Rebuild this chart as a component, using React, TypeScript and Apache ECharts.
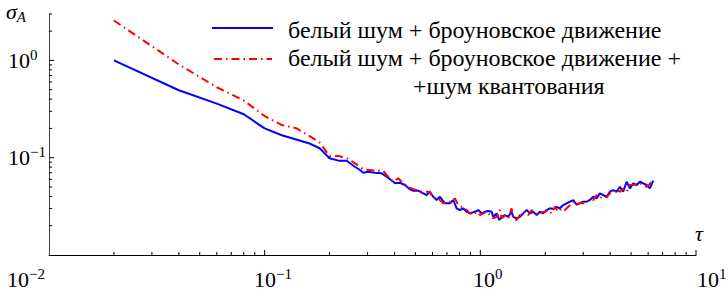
import React, { useEffect, useRef } from "react";
import * as echarts from "echarts";

// ---- data (tau, sigma_A) ----
const blueTau = [0.02, 0.04, 0.06, 0.08, 0.1, 0.12, 0.14, 0.16, 0.18, 0.2, 0.22, 0.24, 0.262, 0.2765, 0.2866, 0.302, 0.3245, 0.3486, 0.3677, 0.3947, 0.4025, 0.4238, 0.447, 0.4717, 0.4889, 0.5155, 0.5436, 0.5636, 0.5838, 0.6047, 0.6271, 0.6498, 0.685, 0.7228, 0.7487, 0.7765, 0.804, 0.8332, 0.8639, 0.895, 0.944, 0.978, 1.014, 1.05, 1.088, 1.128, 1.148, 1.19, 1.223, 1.255, 1.3, 1.347, 1.397, 1.421, 1.473, 1.526, 1.581, 1.64, 1.698, 1.759, 1.824, 1.889, 1.957, 2.03, 2.102, 2.178, 2.258, 2.339, 2.423, 2.513, 2.603, 2.696, 2.796, 2.896, 2.999, 3.111, 3.222, 3.337, 3.461, 3.585, 3.713, 3.851, 3.989, 4.132, 4.284, 4.438, 4.597, 4.768, 4.939, 5.116, 5.304, 5.494, 5.691, 5.902, 6.113, 6.333];
const blueSigma = [1.0, 0.494, 0.36, 0.28, 0.2, 0.17, 0.154, 0.141, 0.125, 0.0986, 0.0933, 0.093, 0.0808, 0.0747, 0.0701, 0.0718, 0.0701, 0.0691, 0.0637, 0.0566, 0.0545, 0.0553, 0.0524, 0.0473, 0.0458, 0.0458, 0.043, 0.0413, 0.0447, 0.0397, 0.0367, 0.0397, 0.034, 0.034, 0.0367, 0.0302, 0.029, 0.0302, 0.0278, 0.0268, 0.0278, 0.029, 0.0268, 0.0278, 0.0283, 0.0278, 0.0247, 0.0268, 0.0229, 0.0247, 0.0257, 0.0247, 0.0278, 0.0247, 0.0238, 0.0247, 0.0268, 0.029, 0.0268, 0.0278, 0.0257, 0.0278, 0.0268, 0.029, 0.0302, 0.0297, 0.0313, 0.0302, 0.0326, 0.034, 0.0353, 0.0367, 0.033, 0.034, 0.0353, 0.0353, 0.0367, 0.0397, 0.0382, 0.043, 0.0413, 0.0397, 0.0447, 0.0465, 0.0447, 0.0503, 0.0447, 0.0566, 0.0484, 0.0545, 0.0524, 0.0566, 0.0545, 0.0524, 0.0484, 0.058];

const redTau = [0.02, 0.04, 0.06, 0.08, 0.1, 0.12, 0.14, 0.16, 0.18, 0.2, 0.22, 0.24, 0.2486, 0.262, 0.2866, 0.3077, 0.3306, 0.3547, 0.3677, 0.381, 0.3947, 0.4162, 0.4238, 0.4391, 0.4631, 0.4889, 0.5155, 0.5344, 0.5636, 0.5838, 0.6047, 0.6379, 0.673, 0.7096, 0.7359, 0.7627, 0.7901, 0.819, 0.848, 0.879, 0.927, 0.961, 0.996, 1.031, 1.07, 1.108, 1.148, 1.19, 1.233, 1.255, 1.3, 1.347, 1.397, 1.421, 1.473, 1.526, 1.61, 1.668, 1.729, 1.791, 1.855, 1.924, 1.993, 2.064, 2.141, 2.218, 2.297, 2.382, 2.467, 2.556, 2.696, 2.796, 2.896, 2.999, 3.111, 3.222, 3.337, 3.461, 3.585, 3.713, 3.851, 3.989, 4.132, 4.284, 4.438, 4.597, 4.768, 4.939, 5.116, 5.304, 5.494, 5.691, 5.902, 6.113, 6.29];
const redSigma = [2.57, 0.91, 0.53, 0.387, 0.268, 0.217, 0.201, 0.169, 0.143, 0.104, 0.104, 0.099, 0.0947, 0.0876, 0.076, 0.0747, 0.0735, 0.0735, 0.0664, 0.0614, 0.0566, 0.0614, 0.059, 0.0545, 0.0503, 0.0473, 0.0465, 0.0447, 0.0447, 0.0447, 0.0382, 0.0382, 0.034, 0.0353, 0.0353, 0.0382, 0.0326, 0.0313, 0.0302, 0.0278, 0.0257, 0.0278, 0.0257, 0.0268, 0.0278, 0.0257, 0.0238, 0.0247, 0.029, 0.0238, 0.0253, 0.0238, 0.0302, 0.0238, 0.0229, 0.0257, 0.0278, 0.0257, 0.029, 0.0268, 0.0257, 0.0275, 0.0278, 0.029, 0.0268, 0.0313, 0.0278, 0.0302, 0.029, 0.0313, 0.0353, 0.0326, 0.0344, 0.034, 0.0353, 0.0373, 0.0367, 0.0413, 0.0382, 0.0404, 0.0391, 0.043, 0.043, 0.0473, 0.0447, 0.0484, 0.0447, 0.0524, 0.0524, 0.0536, 0.0545, 0.0524, 0.0503, 0.0536, 0.06];

const seriesNames = [
  "белый шум + броуновское движение",
  "белый шум + броуновское движение + шум квантования",
];
const legendLines = [
  "белый шум + броуновское движение",
  "белый шум + броуновское движение +",
  "+шум квантования",
];

// axis ranges and tick marks
const xRange = [0.01, 10];
const yRange = [0.01, 3];
const xMajorTicks = [0.1, 1, 10];
const xMinorTicks = [0.02, 0.03, 0.04, 0.05, 0.06, 0.07, 0.08, 0.09, 0.2, 0.3, 0.4, 0.5, 0.6, 0.7, 0.8, 0.9, 2, 3, 4, 5, 6, 7, 8, 9];
const yMajorTicks = [0.1, 1];
const yMinorTicks = [0.02, 0.03, 0.04, 0.05, 0.06, 0.07, 0.08, 0.09, 0.2, 0.3, 0.4, 0.5, 0.6, 0.7, 0.8, 0.9, 2, 3];
const xTickLabels = ["10{s|−2}", "10{s|−1}", "10{s|0}", "10{s|1}"];

const FONT = "Liberation Serif";
const BLUE = "#0000ff";
const RED = "#ff0000";
const RED_DASH = [8, 4, 1.5, 4];

export default function App() {
  const ref = useRef<HTMLDivElement>(null);

  useEffect(() => {
    if (!ref.current) return;
    const chart = echarts.init(ref.current, undefined, { renderer: "svg" });

    const zip = (a: number[], b: number[]) => a.map((v, i) => [v, b[i]]);
    const xTickData = [
      ...xMajorTicks.map((v) => [v, yRange[0], 1]),
      ...xMinorTicks.map((v) => [v, yRange[0], 0]),
    ];
    const yTickData = [
      ...yMajorTicks.map((v) => [xRange[0], v, 1]),
      ...yMinorTicks.map((v) => [xRange[0], v, 0]),
    ];
    const tickSeries = (data: number[][], dir: "x" | "y") => ({
      type: "custom",
      silent: true,
      clip: false,
      z: 6,
      data,
      renderItem: (_p: any, api: any) => {
        const p = api.coord([api.value(0), api.value(1)]);
        const len = api.value(2) ? 5 : 3;
        const shape =
          dir === "x"
            ? { x1: p[0], y1: p[1], x2: p[0], y2: p[1] - len }
            : { x1: p[0], y1: p[1], x2: p[0] + len, y2: p[1] };
        return { type: "line", shape, style: { stroke: "#000", lineWidth: 1 } };
      },
    });

    const supRich = {
      s: { fontSize: 15, lineHeight: 16, verticalAlign: "top", fontFamily: FONT, color: "#000" },
    };

    const xLabelLefts = [7, 254, 473, 697];
    const legendTextY = [30, 58, 86];

    chart.setOption({
      animation: false,
      grid: { left: 49, right: 32, top: 14, bottom: 41 },
      xAxis: {
        type: "log",
        logBase: 10,
        min: xRange[0],
        max: xRange[1],
        axisLine: { show: true, onZero: false, lineStyle: { color: "#000", width: 1 } },
        axisTick: { show: false },
        axisLabel: { show: false },
        splitLine: { show: false },
      },
      yAxis: {
        type: "log",
        logBase: 10,
        min: yRange[0],
        max: yRange[1],
        axisLine: { show: true, onZero: false, lineStyle: { color: "#444", width: 1 } },
        axisTick: { show: false },
        splitLine: { show: false },
        axisLabel: {
          show: true,
          align: "left",
          margin: 41,
          fontFamily: FONT,
          fontSize: 22,
          lineHeight: 26,
          color: "#000",
          formatter: (v: number) => {
            const e = Math.round(Math.log10(v));
            if (Math.abs(Math.log10(v) - e) > 1e-6) return "";
            if (e === 0) return "10{s|0}";
            if (e === -1) return "10{s|−1}";
            return "";
          },
          rich: supRich,
        },
      },
      graphic: [
        ...xTickLabels.map((t, i) => ({
          type: "text",
          left: xLabelLefts[i],
          top: 266,
          style: {
            text: t,
            fontFamily: FONT,
            fontSize: 22,
            lineHeight: 26,
            fill: "#000",
            rich: supRich,
          },
        })),
        // legend
        {
          type: "line",
          shape: { x1: 212, y1: 28, x2: 273, y2: 28 },
          style: { stroke: BLUE, lineWidth: 2 },
        },
        {
          type: "line",
          shape: { x1: 214, y1: 59, x2: 272, y2: 59 },
          style: { stroke: RED, lineWidth: 2, lineDash: RED_DASH },
        },
        ...legendLines.map((t, i) => ({
          type: "text",
          x: i === 2 ? 413 : 288,
          y: legendTextY[i],
          style: {
            text: t,
            fontFamily: FONT,
            fontSize: 24,
            fill: "#000",
            align: "left",
            verticalAlign: "middle",
          },
        })),
        {
          type: "text",
          left: 6,
          top: 0,
          style: {
            text: "{g|σ}{a|A}",
            rich: {
              g: { fontFamily: FONT, fontStyle: "italic", fontSize: 22, lineHeight: 26, color: "#000" },
              a: { fontFamily: FONT, fontStyle: "italic", fontSize: 15, lineHeight: 20, verticalAlign: "bottom", color: "#000" },
            },
          },
        },
        {
          type: "text",
          left: 695,
          top: 222,
          style: { text: "τ", fontFamily: FONT, fontStyle: "italic", fontSize: 22, fill: "#000" },
        },
      ],
      series: [
        {
          name: seriesNames[0],
          type: "line",
          data: zip(blueTau, blueSigma),
          symbol: "none",
          showSymbol: false,
          lineStyle: { color: BLUE, width: 2 },
          itemStyle: { color: BLUE },
          z: 3,
        },
        {
          name: seriesNames[1],
          type: "line",
          data: zip(redTau, redSigma),
          symbol: "none",
          showSymbol: false,
          lineStyle: { color: RED, width: 2, type: RED_DASH },
          itemStyle: { color: RED },
          z: 4,
        },
        tickSeries(xTickData, "x"),
        tickSeries(yTickData, "y"),
      ],
    });

    return () => chart.dispose();
  }, []);

  return (
    <div
      ref={ref}
      style={{ position: "fixed", left: 0, top: 0, width: 728, height: 296, background: "#fff" }}
    />
  );
}
